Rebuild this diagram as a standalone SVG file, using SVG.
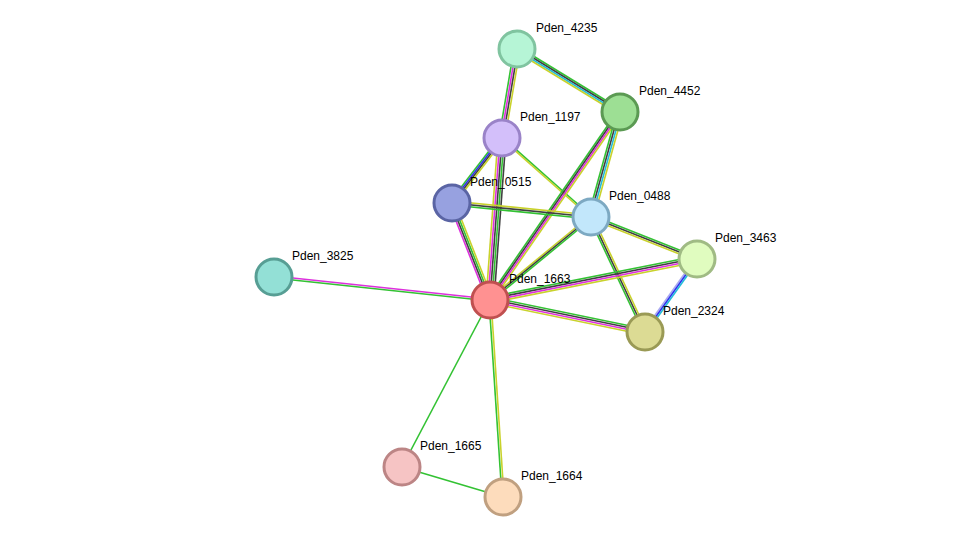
<svg xmlns="http://www.w3.org/2000/svg" width="975" height="543" viewBox="0 0 975 543">
<style>
line{stroke-width:1.6;fill:none}
.g{stroke:#33c233}.k{stroke:#404040}.y{stroke:#c9d22c}.m{stroke:#dd30dd}.b{stroke:#3030f0}.c{stroke:#25bcd8}.l{stroke:#aaaaf0}
circle{stroke-width:3}
text{font-family:"Liberation Sans",Arial,sans-serif;font-size:12px;fill:#000}
</style>
<rect width="975" height="543" fill="#fff"/>
<g id="connectors">
<line class="g" x1="514" y1="49" x2="499" y2="138"/><line class="m" x1="516" y1="49" x2="501" y2="138"/><line class="k" x1="518" y1="49" x2="503" y2="138"/><line class="y" x1="520" y1="49" x2="505" y2="138"/>
<line class="g" x1="517" y1="46" x2="620" y2="109"/><line class="k" x1="517" y1="48" x2="620" y2="111"/><line class="c" x1="517" y1="50" x2="620" y2="113"/><line class="y" x1="517" y1="52" x2="620" y2="115"/>
<line class="g" x1="499" y1="138" x2="449" y2="203"/><line class="b" x1="501" y1="138" x2="451" y2="203"/><line class="k" x1="503" y1="138" x2="453" y2="203"/><line class="y" x1="505" y1="138" x2="455" y2="203"/>
<line class="y" x1="498" y1="138" x2="486" y2="300"/><line class="m" x1="500" y1="138" x2="488" y2="300"/><line class="k" x1="502" y1="138" x2="490" y2="300"/><line class="g" x1="504" y1="138" x2="492" y2="300"/><line class="k" x1="506" y1="138" x2="494" y2="300"/>
<line class="g" x1="502" y1="137" x2="591" y2="216"/><line class="y" x1="502" y1="139" x2="591" y2="218"/>
<line class="g" x1="617" y1="112" x2="487" y2="300"/><line class="k" x1="619" y1="112" x2="489" y2="300"/><line class="m" x1="621" y1="112" x2="491" y2="300"/><line class="y" x1="623" y1="112" x2="493" y2="300"/>
<line class="g" x1="617" y1="112" x2="588" y2="217"/><line class="k" x1="619" y1="112" x2="590" y2="217"/><line class="c" x1="621" y1="112" x2="592" y2="217"/><line class="y" x1="623" y1="112" x2="594" y2="217"/>
<line class="y" x1="452" y1="201" x2="591" y2="215"/><line class="k" x1="452" y1="203" x2="591" y2="217"/><line class="g" x1="452" y1="205" x2="591" y2="219"/>
<line class="m" x1="449" y1="203" x2="487" y2="300"/><line class="k" x1="451" y1="203" x2="489" y2="300"/><line class="g" x1="453" y1="203" x2="491" y2="300"/><line class="y" x1="455" y1="203" x2="493" y2="300"/>
<line class="y" x1="591" y1="215" x2="490" y2="298"/><line class="k" x1="591" y1="217" x2="490" y2="300"/><line class="g" x1="591" y1="219" x2="490" y2="302"/>
<line class="g" x1="591" y1="215" x2="697" y2="257"/><line class="k" x1="591" y1="217" x2="697" y2="259"/><line class="y" x1="591" y1="219" x2="697" y2="261"/>
<line class="g" x1="589" y1="217" x2="643" y2="332"/><line class="k" x1="591" y1="217" x2="645" y2="332"/><line class="y" x1="593" y1="217" x2="647" y2="332"/>
<line class="g" x1="490" y1="297" x2="697" y2="256"/><line class="k" x1="490" y1="299" x2="697" y2="258"/><line class="m" x1="490" y1="301" x2="697" y2="260"/><line class="y" x1="490" y1="303" x2="697" y2="262"/>
<line class="g" x1="490" y1="297" x2="645" y2="329"/><line class="k" x1="490" y1="299" x2="645" y2="331"/><line class="m" x1="490" y1="301" x2="645" y2="333"/><line class="y" x1="490" y1="303" x2="645" y2="335"/>
<line class="l" x1="695" y1="259" x2="643" y2="332"/><line class="b" x1="697" y1="259" x2="645" y2="332"/><line class="c" x1="699" y1="259" x2="647" y2="332"/>
<line class="m" x1="274" y1="276" x2="490" y2="299"/><line class="g" x1="274" y1="278" x2="490" y2="301"/>
<line class="g" x1="490" y1="300" x2="402" y2="467"/>
<line class="g" x1="489" y1="300" x2="502" y2="497"/><line class="y" x1="491" y1="300" x2="504" y2="497"/>
<line class="g" x1="402" y1="467" x2="503" y2="497"/>
</g>
<g id="Pden_4235"><circle cx="517" cy="49" r="18" fill="#b6f5d6" stroke="#80c4a0"/><text x="536" y="32">Pden_4235</text></g>
<g id="Pden_4452"><circle cx="620" cy="112" r="18" fill="#9ddf94" stroke="#5b9a53"/><text x="639" y="95">Pden_4452</text></g>
<g id="Pden_1197"><circle cx="502" cy="138" r="18" fill="#d3bffa" stroke="#9a83c8"/><text x="520" y="121">Pden_1197</text></g>
<g id="Pden_0515"><circle cx="452" cy="203" r="18" fill="#97a1e0" stroke="#5a64a4"/><text x="470" y="186">Pden_0515</text></g>
<g id="Pden_0488"><circle cx="591" cy="217" r="18" fill="#c2e7fb" stroke="#7da9c2"/><text x="609" y="200">Pden_0488</text></g>
<g id="Pden_3463"><circle cx="697" cy="259" r="18" fill="#e0fcbf" stroke="#a0bb84"/><text x="715" y="242">Pden_3463</text></g>
<g id="Pden_3825"><circle cx="274" cy="277" r="18" fill="#93e0d6" stroke="#579e94"/><text x="292" y="260">Pden_3825</text></g>
<g id="Pden_1663"><circle cx="490" cy="300" r="18" fill="#ff9191" stroke="#c05050"/><text x="509" y="283">Pden_1663</text></g>
<g id="Pden_2324"><circle cx="645" cy="332" r="18" fill="#dcdb94" stroke="#9a9a55"/><text x="663" y="315">Pden_2324</text></g>
<g id="Pden_1665"><circle cx="402" cy="467" r="18" fill="#f6c4c4" stroke="#bc8585"/><text x="420" y="450">Pden_1665</text></g>
<g id="Pden_1664"><circle cx="503" cy="497" r="18" fill="#fddcbc" stroke="#c0a080"/><text x="521" y="480">Pden_1664</text></g>
</svg>
